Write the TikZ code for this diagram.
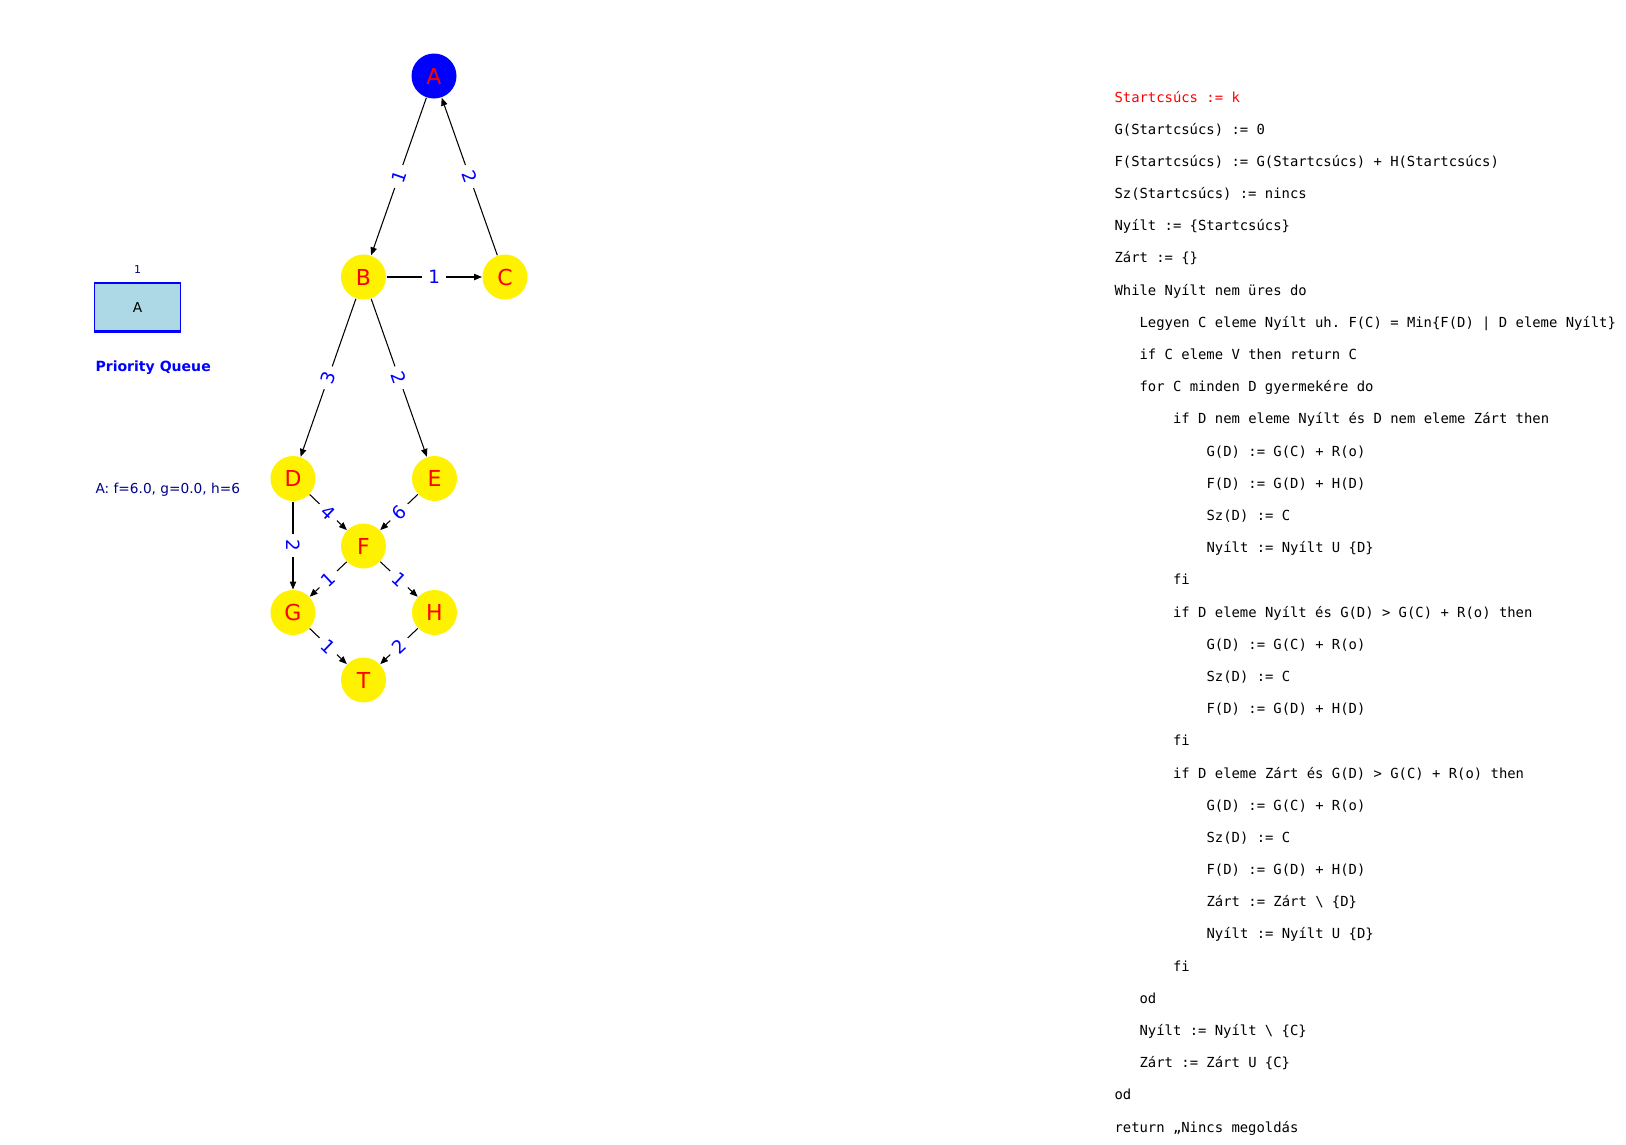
\documentclass[tikz,border=0pt]{standalone}
\usepackage{fontspec}
\setmainfont{DejaVu Sans}
\setmonofont{DejaVu Sans Mono}
\usetikzlibrary{arrows.meta}
\definecolor{lightblue}{RGB}{173,216,230}
\definecolor{darkblue}{RGB}{0,0,139}
\def\rowsep{32.19}

\begin{document}
\begin{tikzpicture}[x=0.02cm,y=-0.02cm,->,>={Triangle[length=4.5pt,width=3.6pt]},line width=0.6pt]
    \tikzstyle{vertex}=[circle,fill=yellow,minimum size=0.9cm,inner sep=0pt,text=red,font=\fontsize{12.5}{15}\selectfont]
    \tikzstyle{start vertex}=[vertex, fill=blue]
    \tikzstyle{weight}=[sloped,fill=white,inner sep=3.5pt,text=blue,font=\fontsize{10.4}{12}\selectfont]
    \tikzstyle{code}=[anchor=base west,inner sep=0pt,font=\ttfamily\fontsize{7.9}{9}\selectfont]
    \tikzstyle{legend}=[anchor=west,inner sep=0pt]
    \useasboundingbox (0,0) rectangle (1626,1144);

    % Draw the graph nodes
    \node[start vertex] (N-A) at (434,76) {A};
    \foreach \name / \x / \y in {B/363.5/277, C/505/277, D/293/478.5, E/434.5/478.5, F/363.5/546, G/293/612.5, H/434.5/612.5, T/363.5/680}
        \node[vertex] (N-\name) at (\x,\y) {\name};

    % Draw the weighted edges
    \foreach \source / \dest / \w in {A/B/1, C/A/2, B/C/1, B/D/3, B/E/2, D/F/4, E/F/6, D/G/2, F/G/1, F/H/1, G/T/1, H/T/2}
        \draw (N-\source) -- node[weight] {\w} (N-\dest);

    % Priority queue
    \node[rectangle,draw=blue,fill=lightblue,minimum width=1.72cm,minimum height=0.96cm,font=\fontsize{7.8}{9}\selectfont] (pq-box) at (137.5,307) {A};
    \draw[-,blue,line width=1.7pt] (pq-box.south west) -- (pq-box.south east);
    \node[text=darkblue,font=\fontsize{6.2}{7}\selectfont] (pq-rank) at (137.5,270) {1};
    \node[legend,text=blue,font=\bfseries\fontsize{8}{10}\selectfont] (pq-title) at (95,368) {Priority Queue};
    \node[legend,text=darkblue,font=\fontsize{7.8}{9}\selectfont] (pq-info) at (95,490) {A: f=6.0, g=0.0, h=6};

    % Pseudo code
    \node[code,text=red] (line-1) at (1114,102) {Startcsúcs := k};
    \foreach \dx / \txt [count=\i from 2] in {
        0/{G(Startcsúcs) := 0},
        0/{F(Startcsúcs) := G(Startcsúcs) + H(Startcsúcs)},
        0/{Sz(Startcsúcs) := nincs},
        0/{Nyílt := \{Startcsúcs\}},
        0/{Zárt := \{\}},
        0/{While Nyílt nem üres do},
        25.1/{Legyen C eleme Nyílt uh. F(C) = Min\{F(D) | D eleme Nyílt\}},
        25.1/{if C eleme V then return C},
        25.1/{for C minden D gyermekére do},
        58.6/{if D nem eleme Nyílt és D nem eleme Zárt then},
        92.1/{G(D) := G(C) + R(o)},
        92.1/{F(D) := G(D) + H(D)},
        92.1/{Sz(D) := C},
        92.1/{Nyílt := Nyílt U \{D\}},
        58.6/{fi},
        58.6/{if D eleme Nyílt és G(D) > G(C) + R(o) then},
        92.1/{G(D) := G(C) + R(o)},
        92.1/{Sz(D) := C},
        92.1/{F(D) := G(D) + H(D)},
        58.6/{fi},
        58.6/{if D eleme Zárt és G(D) > G(C) + R(o) then},
        92.1/{G(D) := G(C) + R(o)},
        92.1/{Sz(D) := C},
        92.1/{F(D) := G(D) + H(D)},
        92.1/{Zárt := Zárt \textbackslash{} \{D\}},
        92.1/{Nyílt := Nyílt U \{D\}},
        58.6/{fi},
        25.1/{od},
        25.1/{Nyílt := Nyílt \textbackslash{} \{C\}},
        25.1/{Zárt := Zárt U \{C\}},
        0/{od},
        0/{return „Nincs megoldás}}
        \node[code] (line-\i) at ({1114+\dx},{102+(\i-1)*\rowsep}) {\txt};
\end{tikzpicture}
\end{document}
